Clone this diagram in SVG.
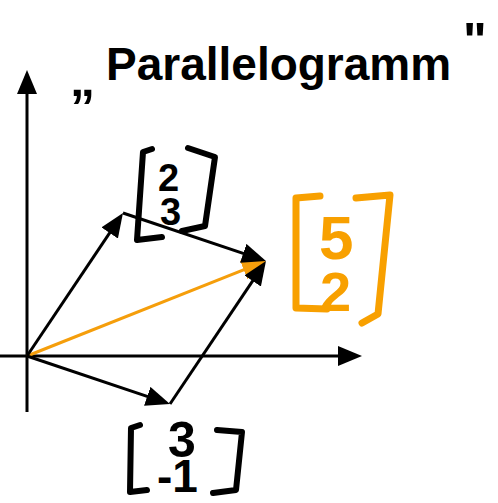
<svg xmlns="http://www.w3.org/2000/svg" width="498" height="503" viewBox="0 0 498 503">
<style>
.ax{stroke:#000;stroke-width:3;fill:none}
.v{stroke:#000;stroke-width:3;fill:none}
.vo{stroke:#f59e0b;stroke-width:3;fill:none}
.br{stroke:#000;stroke-width:6;fill:none;stroke-linecap:round;stroke-linejoin:round}
.bro{stroke:#f8a000;stroke-width:7;fill:none;stroke-linecap:round;stroke-linejoin:round}
.t{font-family:"Liberation Sans",Arial,sans-serif;font-weight:bold;fill:#000}
.to{font-family:"Liberation Sans",Arial,sans-serif;font-weight:bold;fill:#f8a000}
</style>
<defs>
<marker id="ah" markerUnits="userSpaceOnUse" markerWidth="24" markerHeight="20" refX="14" refY="10" orient="auto"><path d="M0,0 L24,10 L0,20 z" fill="#000"/></marker>
<marker id="aho" markerUnits="userSpaceOnUse" markerWidth="24" markerHeight="20" refX="14" refY="10" orient="auto"><path d="M0,0 L24,10 L0,20 z" fill="#f59e0b"/></marker>
</defs>
<rect width="498" height="503" fill="#fff"/>
<g id="title">
<text class="t" x="70" y="96" font-size="50" font-weight="normal">„</text>
<text class="t" x="106" y="80" font-size="46">Parallelogramm</text>
<text class="t" x="463" y="58" font-size="50" font-weight="normal">"</text>
</g>
<g id="axes">
<line class="ax" x1="27" y1="412" x2="27" y2="92"/>
<polygon points="17,94 27,70 37,94" fill="#000"/>
<line class="ax" x1="0" y1="356" x2="340" y2="356"/>
<polygon points="338,346 362,356 338,366" fill="#000"/>
</g>
<g id="connectors">
<line class="vo" x1="27" y1="356" x2="256.7" y2="264.7" marker-end="url(#aho)"/>
<line class="v" x1="27" y1="356" x2="117.4" y2="221.3" marker-end="url(#ah)"/>
<line class="v" x1="123" y1="213" x2="256.5" y2="257.8" marker-end="url(#ah)"/>
<line class="v" x1="27" y1="356" x2="160.5" y2="400.8" marker-end="url(#ah)"/>
<line class="v" x1="170" y1="404" x2="260.4" y2="269.3" marker-end="url(#ah)"/>
</g>
<g id="label-2-3">
<path class="br" d="M152,149 L143,152 L137,240 L162,237"/>
<path class="br" d="M188,148 L215,157 L205,226 L182,231"/>
<text class="t" font-size="38"><tspan x="158" y="191">2</tspan><tspan x="160" y="225">3</tspan></text>
</g>
<g id="label-5-2">
<path class="bro" d="M320,196 L296,198 L296,308 L327,309"/>
<path class="bro" d="M356,198 L390,195 L378,314 L362,323"/>
<text class="to" font-size="56"><tspan x="319" y="259" font-size="62">5</tspan><tspan x="320" y="311">2</tspan></text>
</g>
<g id="label-3-m1">
<path class="br" d="M140,425 L131,428 L130,492 L147,490"/>
<path class="br" d="M217,430 L242,432 L236,490 L213,493"/>
<text class="t" font-size="46"><tspan x="168" y="457" font-size="50">3</tspan><tspan x="157" y="492">-1</tspan></text>
</g>
</svg>
